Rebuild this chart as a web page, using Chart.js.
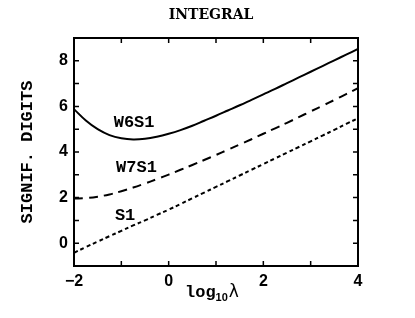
<!DOCTYPE html>
<html>
<head>
<meta charset="utf-8">
<script src="https://cdn.jsdelivr.net/npm/chart.js@4.4.1/dist/chart.umd.min.js"></script>
<style>
html,body{margin:0;padding:0;background:#fff;}
#wrap{width:415px;height:318px;}
</style>
</head>
<body>
<div id="wrap"><canvas id="c" width="415" height="318"></canvas></div>
<script>
// ---- data ----
const xs = [-2,-1.75,-1.5,-1.25,-1,-0.75,-0.5,-0.25,0,0.25,0.5,0.75,1,1.25,1.5,1.75,2,2.25,2.5,2.75,3,3.25,3.5,3.75,4];
const w6s1 = [5.88,5.38,5.00,4.74,4.60,4.55,4.58,4.67,4.80,4.96,5.15,5.37,5.59,5.82,6.05,6.29,6.53,6.77,7.02,7.27,7.52,7.77,8.02,8.27,8.52];
const w7s1 = [1.96,1.98,2.04,2.14,2.28,2.44,2.62,2.81,3.01,3.22,3.43,3.65,3.87,4.10,4.33,4.56,4.80,5.04,5.28,5.53,5.78,6.03,6.28,6.54,6.80];
const s1   = [-0.42,-0.17,0.07,0.31,0.54,0.78,1.00,1.24,1.47,1.72,1.97,2.22,2.47,2.72,2.97,3.22,3.47,3.72,3.97,4.22,4.47,4.72,4.97,5.23,5.48];
const seriesNames = ['W6S1','W7S1','S1'];
const xMajorTicks = [-2,0,2,4];
const xMinorTicks = [-1,1,3];
const yMajorTicks = [0,2,4,6,8];
const yMinorTicks = [-1,1,3,5,7,9];
const curveLabels = [
  {text:'W6S1', x:-0.73, y:5.29},
  {text:'W7S1', x:-0.68, y:3.31},
  {text:'S1',   x:-0.92, y:1.20}
];
const chartTitle = 'INTEGRAL';
const yTitle = 'SIGNIF. DIGITS';

const toPts = arr => xs.map((x,i)=>({x:x, y:arr[i]}));

const decor = {
  id:'decor',
  afterDatasetsDraw(chart){
    const {ctx, chartArea:a, scales:{x, y}} = chart;
    ctx.save();
    // frame
    ctx.strokeStyle='#000';
    ctx.lineWidth=2;
    ctx.strokeRect(a.left, a.top, a.right-a.left, a.bottom-a.top);
    // inward ticks on all four sides
    ctx.lineWidth=1.5;
    const tl=5;
    ctx.beginPath();
    xMajorTicks.concat(xMinorTicks).forEach(v=>{
      const px=x.getPixelForValue(v);
      ctx.moveTo(px,a.bottom); ctx.lineTo(px,a.bottom-tl);
      ctx.moveTo(px,a.top); ctx.lineTo(px,a.top+tl);
    });
    yMajorTicks.concat(yMinorTicks).forEach(v=>{
      const py=y.getPixelForValue(v);
      ctx.moveTo(a.left,py); ctx.lineTo(a.left+tl,py);
      ctx.moveTo(a.right,py); ctx.lineTo(a.right-tl,py);
    });
    ctx.stroke();
    // curve labels
    ctx.fillStyle='#000';
    ctx.font='bold 17px "Liberation Mono"';
    ctx.textAlign='center';
    ctx.textBaseline='middle';
    curveLabels.forEach(l=>{
      ctx.fillText(l.text, x.getPixelForValue(l.x), y.getPixelForValue(l.y));
    });
    // title
    ctx.font='bold 14px "DejaVu Serif"';
    ctx.fillText(chartTitle, 211, 15);
    // x axis title log10 lambda
    ctx.textAlign='left';
    ctx.textBaseline='alphabetic';
    ctx.font='bold 17px "Liberation Mono"';
    const base=297;
    let cx=185;
    ctx.fillText('log', cx, base);
    cx += ctx.measureText('log').width;
    ctx.font='bold 11px "Liberation Sans"';
    ctx.fillText('10', cx, base+4);
    cx += ctx.measureText('10').width+1;
    ctx.font='17px "DejaVu Sans"';
    ctx.fillText('λ', cx, base);
    ctx.restore();
  }
};

new Chart(document.getElementById('c'), {
  type:'line',
  data:{
    datasets:[
      {label:seriesNames[0], data:toPts(w6s1), borderColor:'#000', borderWidth:2, pointRadius:0, tension:0.4, fill:false},
      {label:seriesNames[1], data:toPts(w7s1), borderColor:'#000', borderWidth:2, borderDash:[9,6], pointRadius:0, tension:0.4, fill:false},
      {label:seriesNames[2], data:toPts(s1),   borderColor:'#000', borderWidth:2, borderDash:[4,3], pointRadius:0, tension:0.4, fill:false}
    ]
  },
  options:{
    responsive:false,
    animation:false,
    layout:{padding:{top:38, right:57, bottom:0, left:0}},
    plugins:{legend:{display:false}, tooltip:{enabled:false}, title:{display:false}},
    scales:{
      x:{
        type:'linear', min:-2, max:4,
        grid:{display:false, drawTicks:false},
        border:{display:false},
        afterBuildTicks(s){ s.ticks = xMajorTicks.map(v=>({value:v})); },
        afterFit(s){ s.height = 52; },
        ticks:{color:'#000', padding:6, maxRotation:0,
          font:{family:'Liberation Sans', weight:'bold', size:16},
          callback:v=> (v<0 ? '\u2212'+Math.abs(v) : String(v))}
      },
      y:{
        type:'linear', min:-1, max:9,
        grid:{display:false, drawTicks:false},
        border:{display:false},
        afterBuildTicks(s){ s.ticks = yMajorTicks.map(v=>({value:v})); },
        afterFit(s){ s.width = 74; },
        ticks:{color:'#000', padding:6,
          font:{family:'Liberation Sans', weight:'bold', size:16},
          callback:v=> (v<0 ? '\u2212'+Math.abs(v) : String(v))},
        title:{display:true, text:yTitle, color:'#000', padding:{top:18,bottom:0},
          font:{family:'Liberation Mono', weight:'bold', size:17}}
      }
    }
  },
  plugins:[decor]
});
</script>
</body>
</html>
